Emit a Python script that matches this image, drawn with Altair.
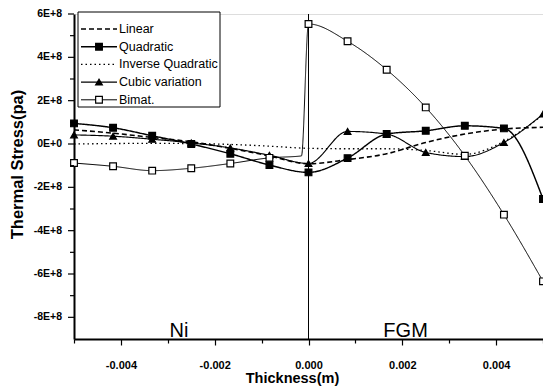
import altair as alt
import pandas as pd

# ---- data (stress values in units of 1E+8 Pa) ----
SERIES = ["Linear", "Quadratic", "Inverse Quadratic", "Cubic variation", "Bimat."]

GRID_X = [-0.005, -0.004167, -0.003333, -0.0025, -0.001667, -0.000833, 0.0,
          0.000833, 0.001667, 0.0025, 0.003333, 0.004167, 0.005]

LINEAR = [0.65, 0.50, 0.30, 0.10, -0.20, -0.55, -0.91, -0.72, -0.45, 0.07, 0.46, 0.69, 0.77]
QUADRATIC = [0.95, 0.75, 0.38, 0.00, -0.45, -0.97, -1.31, -0.65, 0.46, 0.61, 0.84, 0.72, -2.54]
INVERSE_QUADRATIC = [0.00, 0.02, 0.03, 0.02, -0.02, -0.10, -0.20, -0.22, -0.22, -0.30, -0.48, 0.12, 1.35]
CUBIC = [0.42, 0.36, 0.22, 0.05, -0.18, -0.52, -0.90, 0.58, 0.46, -0.39, -0.58, 0.07, 1.38]

BIMAT_X = [-0.005, -0.004167, -0.003333, -0.0025, -0.001667, -0.000833, -0.00015, 0.0,
           0.000833, 0.001667, 0.0025, 0.003333, 0.004167, 0.005]
BIMAT = [-0.88, -1.03, -1.23, -1.12, -0.90, -0.64, -0.55, 5.54,
         4.74, 3.43, 1.69, -0.54, -3.26, -6.34]
BIMAT_MARKED = [1, 1, 1, 1, 1, 1, 0, 1, 1, 1, 1, 1, 1, 1]

MARKED_SERIES = ["Quadratic", "Cubic variation", "Bimat."]

X_TICKS = [-0.005, -0.004, -0.003, -0.002, -0.001, 0.0, 0.001, 0.002, 0.003, 0.004, 0.005]
Y_MAJOR = [-8, -6, -4, -2, 0, 2, 4, 6]
Y_LABELS = ["-8E+8", "-6E+8", "-4E+8", "-2E+8", "0E+0", "2E+8", "4E+8", "6E+8"]
Y_MINOR = [-7, -5, -3, -1, 1, 3, 5]

ANNOT_LABELS = ["Ni", "FGM"]
ANNOT_X = [-0.00276, 0.00207]
ANNOT_Y = [-8.93, -8.93]

# ---- build long table ----
rows = []
for name, vals in [("Linear", LINEAR), ("Quadratic", QUADRATIC),
                   ("Inverse Quadratic", INVERSE_QUADRATIC), ("Cubic variation", CUBIC)]:
    for i, (x, y) in enumerate(zip(GRID_X, vals)):
        rows.append({"series": name, "x": x, "y": y, "i": i,
                     "marked": 1 if name in MARKED_SERIES else 0})
for i, (x, y, m) in enumerate(zip(BIMAT_X, BIMAT, BIMAT_MARKED)):
    rows.append({"series": "Bimat.", "x": x, "y": y, "i": i, "marked": m})
df = pd.DataFrame(rows)

legend_df = pd.DataFrame({"series": SERIES, "k": list(range(len(SERIES)))})
annot_df = pd.DataFrame({"label": ANNOT_LABELS, "x": ANNOT_X, "y": ANNOT_Y})
ymaj_df = pd.DataFrame({"v": Y_MAJOR, "t": Y_LABELS})
ymin_df = pd.DataFrame({"v": Y_MINOR})

FONT = "Liberation Sans"

dash_scale = alt.Scale(domain=SERIES, range=[[5, 3], [1, 0], [1.5, 3], [1, 0], [1, 0]])
width_scale = alt.Scale(domain=SERIES, range=[1.6, 1.0, 1.5, 1.0, 1.0])
shape_scale = alt.Scale(domain=SERIES, range=["square", "square", "square", "triangle-up", "square"])
fill_scale = alt.Scale(domain=SERIES, range=["black", "black", "black", "black", "white"])

x_scale = alt.Scale(domain=[-0.005, 0.005], nice=False, zero=False)
y_scale = alt.Scale(domain=[-9, 6], nice=False, zero=False)

x_axis = alt.Axis(
    values=X_TICKS,
    labelExpr="abs(round(datum.value*1000)) % 2 == 0 ? replace(format(datum.value, '.3f'), '\u2212', '-') : ''",
    tickSize={"condition": {"test": "abs(round(datum.value*1000)) % 2 == 0", "value": 6}, "value": 4},
    title="Thickness(m)", grid=False,
    domainColor="black", domainWidth=2, tickColor="black", tickWidth=1.2,
    labelFont=FONT, labelFontSize=11, labelFontWeight="bold", labelColor="black",
    labelPadding=14,
    titleFont=FONT, titleFontSize=14.5, titleFontWeight="bold", titleColor="black",
    titleX=218, titleY=32, titleBaseline="top",
)
y_axis = alt.Axis(
    ticks=False, labels=False,
    title="Thermal Stress(pa)", grid=False,
    domainColor="black", domainWidth=2,
    titleFont=FONT, titleFontSize=16.5, titleFontWeight="bold", titleColor="black",
    titleX=-52, titleY=150, titleBaseline="alphabetic", titleAlign="center",
)

base = alt.Chart(df)

lines = base.mark_line(interpolate="monotone", color="black").encode(
    x=alt.X("x:Q", scale=x_scale, axis=x_axis),
    y=alt.Y("y:Q", scale=y_scale, axis=y_axis),
    detail="series:N",
    order="i:Q",
    strokeDash=alt.StrokeDash("series:N", scale=dash_scale, legend=None),
    strokeWidth=alt.StrokeWidth("series:N", scale=width_scale, legend=None),
)

points = base.transform_filter("datum.marked == 1").mark_point(
    stroke="black", strokeWidth=1.2, opacity=1, fillOpacity=1, size=45
).encode(
    x=alt.X("x:Q", scale=x_scale),
    y=alt.Y("y:Q", scale=y_scale),
    shape=alt.Shape("series:N", scale=shape_scale, legend=None),
    fill=alt.Fill("series:N", scale=fill_scale, legend=None),
)

vline = alt.Chart(pd.DataFrame({"x0": [0.0]})).mark_rule(color="black", strokeWidth=1).encode(
    x=alt.X("x0:Q", scale=x_scale)
)

# y-axis ticks and labels
ymaj_ticks = alt.Chart(ymaj_df).mark_rule(color="black", strokeWidth=1.2).encode(
    x=alt.value(-6), x2=alt.value(0), y=alt.Y("v:Q", scale=y_scale)
)
ymin_ticks = alt.Chart(ymin_df).mark_rule(color="black", strokeWidth=1.2).encode(
    x=alt.value(-4), x2=alt.value(0), y=alt.Y("v:Q", scale=y_scale)
)
ylabels = alt.Chart(ymaj_df).mark_text(
    font=FONT, fontSize=10.5, fontWeight="bold", color="black", align="right", baseline="middle"
).encode(
    x=alt.value(-12), y=alt.Y("v:Q", scale=y_scale), text="t:N"
)

annot = alt.Chart(annot_df).mark_text(
    font=FONT, fontSize=20, color="black", align="center", baseline="alphabetic"
).encode(
    x=alt.X("x:Q", scale=x_scale),
    y=alt.Y("y:Q", scale=y_scale),
    text="label:N",
)

# ---- manual legend ----
box = alt.Chart(pd.DataFrame({"a": [0]})).mark_rect(
    fill="white", stroke="black", strokeWidth=1
).encode(
    x=alt.value(4), x2=alt.value(146), y=alt.value(-2), y2=alt.value(93)
)

leg = alt.Chart(legend_df).transform_calculate(ly="15 + 17.7 * datum.k")

leg_lines = leg.mark_rule(color="black").encode(
    x=alt.value(7), x2=alt.value(43),
    y=alt.Y("ly:Q", scale=None),
    strokeDash=alt.StrokeDash("series:N", scale=dash_scale, legend=None),
    strokeWidth=alt.StrokeWidth("series:N", scale=width_scale, legend=None),
)
leg_points = leg.transform_filter(
    alt.FieldOneOfPredicate(field="series", oneOf=MARKED_SERIES)
).mark_point(stroke="black", strokeWidth=1.2, opacity=1, fillOpacity=1, size=45).encode(
    x=alt.value(25),
    y=alt.Y("ly:Q", scale=None),
    shape=alt.Shape("series:N", scale=shape_scale, legend=None),
    fill=alt.Fill("series:N", scale=fill_scale, legend=None),
)
leg_text = leg.mark_text(
    font=FONT, fontSize=12.5, color="black", align="left", baseline="middle"
).encode(
    x=alt.value(45),
    y=alt.Y("ly:Q", scale=None),
    text="series:N",
)

chart = alt.layer(
    vline, lines, points, ymaj_ticks, ymin_ticks, ylabels, annot,
    box, leg_lines, leg_points, leg_text
).properties(
    width=469, height=325,
    autosize=alt.AutoSizeParams(type="none"),
    padding={"left": 66, "top": 6, "right": 0, "bottom": 47},
).configure_view(stroke=None).configure(background="white")

chart.save("out.html", embed_options={"renderer": "svg", "actions": False})
